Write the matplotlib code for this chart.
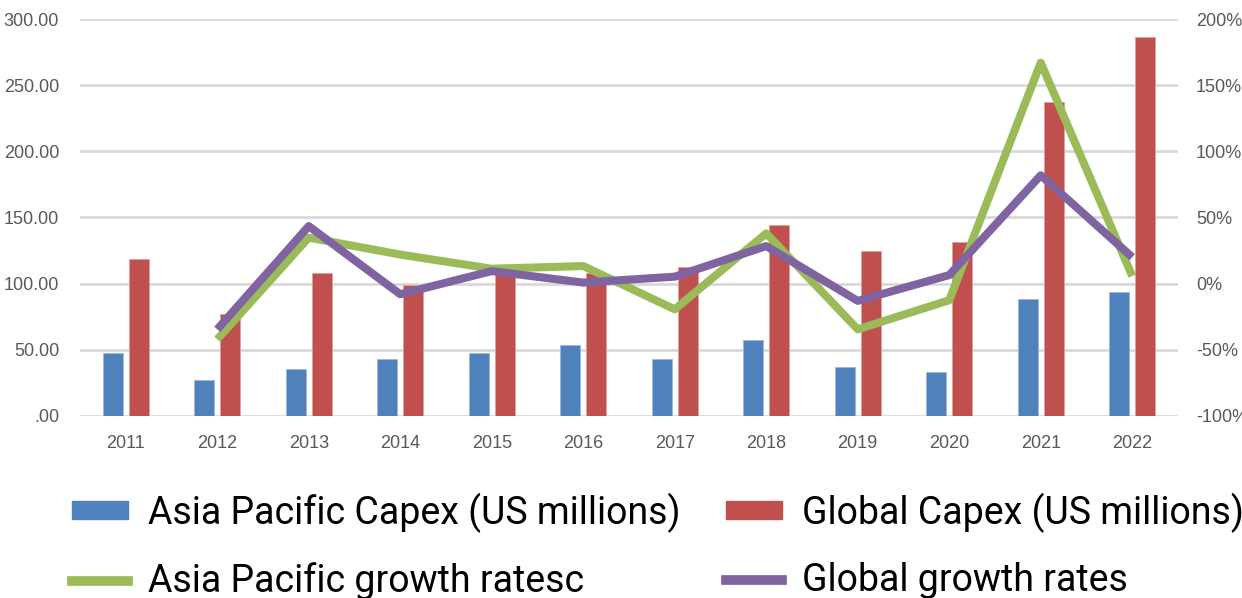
import numpy as np
import matplotlib.pyplot as plt
from matplotlib.patches import Patch
from matplotlib.lines import Line2D

plt.rcParams['font.family'] = ['Liberation Sans', 'DejaVu Sans']

# data
years = ['2011', '2012', '2013', '2014', '2015', '2016', '2017', '2018', '2019', '2020', '2021', '2022']
apac_capex = [47.9, 27.5, 35.8, 42.8, 47.9, 53.4, 42.7, 57.3, 37.2, 33.2, 88.2, 93.7]
global_capex = [119.0, 76.9, 108.4, 98.8, 106.3, 107.8, 112.8, 144.7, 124.6, 131.8, 237.6, 286.5]
apac_growth = [np.nan, -42.0, 34.8, 22.0, 11.3, 13.3, -19.4, 38.0, -34.5, -12.5, 167.0, 5.7]
global_growth = [np.nan, -34.5, 43.5, -8.0, 9.5, 0.8, 5.3, 28.4, -13.0, 6.5, 81.9, 20.0]

blue = '#4F81BD'
red = '#C0504D'
green = '#9BBB59'
purple = '#8064A2'
grey = '#595959'

fig = plt.figure(figsize=(12.42, 5.98), dpi=100)
ax = fig.add_axes([80 / 1242, 1 - 416 / 598, 1098 / 1242, 397 / 598])
ax2 = ax.twinx()

x = np.arange(len(years))
w = 0.22
ax.bar(x - 0.142, apac_capex, w, color=blue, edgecolor='#9DB7DA', linewidth=0.6, zorder=2)
ax.bar(x + 0.142, global_capex, w, color=red, edgecolor='#DDA09E', linewidth=0.6, zorder=2)

ax2.plot(x, apac_growth, color=green, lw=5.8, solid_capstyle='butt', zorder=3)
ax2.plot(x, global_growth, color=purple, lw=5.8, solid_capstyle='butt', zorder=4)

ax.set_xlim(-0.5, len(years) - 0.5)
ax.set_ylim(0, 300)
ax.set_yticks(np.arange(0, 301, 50))
ax.set_yticklabels(['.00' if v == 0 else f'{v:.2f}' for v in range(0, 301, 50)])
ax2.set_ylim(-100, 200)
ax2.set_yticks(np.arange(-100, 201, 50))
ax2.set_yticklabels([f'{v}%' for v in range(-100, 201, 50)])
ax.set_xticks(x)
ax.set_xticklabels(years)

ax.yaxis.grid(True, color='#D9D9D9', lw=2)
ax.set_axisbelow(True)
for a in (ax, ax2):
    for s in a.spines.values():
        s.set_visible(False)
    a.tick_params(length=0, labelsize=13, labelcolor=grey)
ax.tick_params(axis='y', pad=15)
ax2.tick_params(axis='y', pad=13)
ax.tick_params(axis='x', pad=14)

# legend fills column by column, so order the handles to read row by row
handles = [Patch(color=blue), Line2D([], [], color=green, lw=7),
           Patch(color=red), Line2D([], [], color=purple, lw=7)]
labels = ['Asia Pacific Capex (US millions)', 'Asia Pacific growth ratesc',
          'Global Capex (US millions)', 'Global growth rates']
fig.legend(handles, labels, ncol=2, loc='lower left', bbox_to_anchor=(0.0308, -0.06),
           frameon=False, prop={'family': ['Roboto', 'DejaVu Sans'], 'size': 27},
           handlelength=1.49, handleheight=0.38, handletextpad=0.53,
           columnspacing=1.23, labelspacing=0.79)

fig.savefig('out.png', dpi=100)
